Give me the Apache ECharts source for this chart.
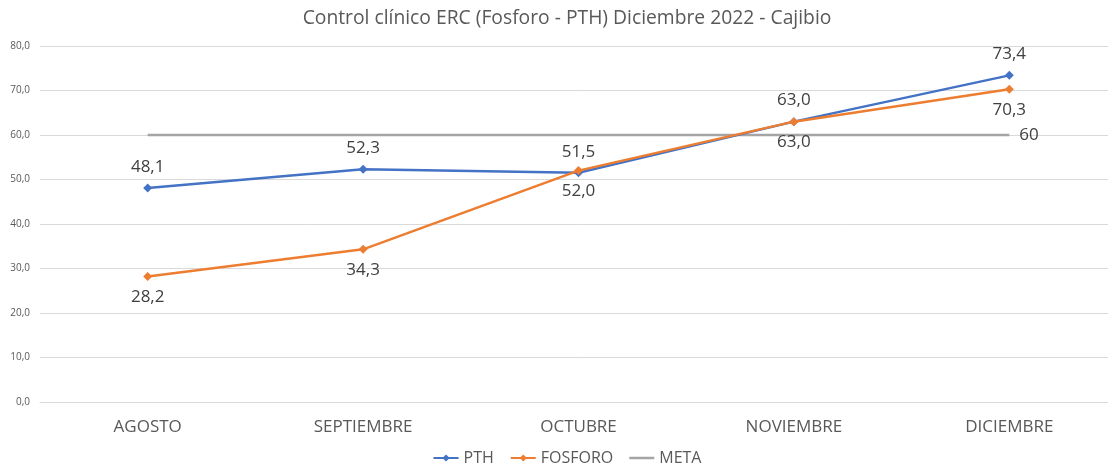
<!DOCTYPE html>
<html>
<head>
<meta charset="utf-8">
<title>Control clínico ERC</title>
<script src="https://cdn.jsdelivr.net/npm/echarts@6/dist/echarts.min.js"></script>
<style>
    html, body { margin: 0; padding: 0; background: #fff; overflow: hidden; }
    #chart { width: 1134px; height: 470px; }
</style>
</head>
<body>
<div id="chart"></div>
<script>
    // datos
    var meses = ['AGOSTO', 'SEPTIEMBRE', 'OCTUBRE', 'NOVIEMBRE', 'DICIEMBRE'];
    var pth = [48.1, 52.3, 51.5, 63.0, 73.4];
    var fosforo = [28.2, 34.3, 52.0, 63.0, 70.3];
    var meta = [60, 60, 60, 60, 60];

    var fuente = '"Open Sans", "Noto Sans", sans-serif';

    function coma(v) {
        return v.toFixed(1).replace('.', ',');
    }

    // el área del gráfico original es algo más ancha que la imagen (recortada a la derecha)
    var myChart = echarts.init(document.getElementById('chart'));
    var option = {
        animation: false,
        title: {
            text: 'Control clínico ERC (Fosforo - PTH) Diciembre 2022 - Cajibio',
            left: 'center',
            top: 4,
            textStyle: { fontFamily: fuente, fontSize: 19.3, fontWeight: 'normal', color: '#595959' }
        },
        legend: {
            bottom: -1,
            left: 'center',
            itemWidth: 25,
            itemHeight: 9,
            itemGap: 16,
            textStyle: { fontFamily: fuente, fontSize: 16, color: '#595959' },
            data: ['PTH', 'FOSFORO', {name: 'META', icon: 'path://M0,0L25,0L25,2.5L0,2.5Z'}]
        },
        grid: {
            left: 40,
            top: 46,
            right: 17,
            bottom: 68
        },
        xAxis: {
            type: 'category',
            data: meses,
            boundaryGap: true,
            axisLine: { lineStyle: { color: '#D9D9D9' } },
            axisTick: { show: false },
            axisLabel: { fontFamily: fuente, fontSize: 17, color: '#595959', margin: 17 }
        },
        yAxis: {
            type: 'value',
            min: 0,
            max: 80,
            interval: 10,
            axisLine: { show: false },
            axisTick: { show: false },
            splitLine: { lineStyle: { color: '#D9D9D9' } },
            axisLabel: {
                fontFamily: fuente, fontSize: 10, color: '#595959', margin: 10,
                formatter: function (v) { return coma(v); }
            }
        },
        series: [
            {
                name: 'META',
                type: 'line',
                data: meta,
                symbol: 'none',
                lineStyle: { color: '#A5A5A5', width: 2.5 },
                itemStyle: { color: '#A5A5A5' },
                z: 1,
                label: { show: false },
                endLabel: {
                    show: true,
                    fontFamily: fuente, fontSize: 17, color: '#404040',
                    distance: 10,
                    formatter: function (p) { return String(p.value); }
                }
            },
            {
                name: 'PTH',
                type: 'line',
                data: pth,
                symbol: 'diamond',
                symbolSize: 9,
                lineStyle: { color: '#4472C4', width: 2.5 },
                itemStyle: { color: '#4472C4' },
                z: 2,
                label: {
                    show: true,
                    position: 'top',
                    distance: 8,
                    fontFamily: fuente, fontSize: 17, color: '#404040',
                    formatter: function (p) { return coma(p.value); }
                }
            },
            {
                name: 'FOSFORO',
                type: 'line',
                data: fosforo,
                symbol: 'diamond',
                symbolSize: 9,
                lineStyle: { color: '#ED7D31', width: 2.5 },
                itemStyle: { color: '#ED7D31' },
                z: 3,
                label: {
                    show: true,
                    position: 'bottom',
                    distance: 8,
                    fontFamily: fuente, fontSize: 17, color: '#404040',
                    formatter: function (p) { return coma(p.value); }
                }
            }
        ]
    };
    myChart.setOption(option);
</script>
</body>
</html>
